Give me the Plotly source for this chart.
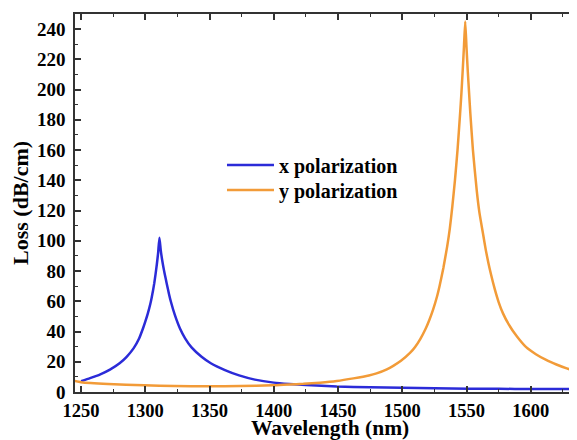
import plotly.graph_objects as go

# x polarization (blue)
x_pol_wl = [1250, 1257, 1265, 1272.5, 1280, 1285.5, 1291, 1295, 1298.4, 1300, 1302, 1304, 1305, 1306,
            1307, 1308, 1309, 1310, 1311,
            1312, 1313, 1314, 1315, 1316, 1317, 1318.4, 1320, 1323, 1327, 1331, 1336, 1343.8, 1351,
            1362, 1373, 1385.3, 1400, 1412, 1425, 1449, 1475, 1500, 1525, 1552, 1575, 1600, 1640]
x_pol_loss = [7.2, 9.2, 11.7, 14.8, 19.0, 23.3, 29.0, 35.0, 42.5, 46.5, 52.0, 58.5, 62.5, 67.0,
              72.0, 78.0, 84.5, 92.0, 102.0,
              94.0, 88.0, 83.0, 78.5, 74.5, 70.5, 65.0, 59.5, 51.0, 42.0, 35.5, 29.5, 23.3, 19.0,
              14.5, 11.0, 8.2, 6.2, 5.3, 4.6, 3.6, 3.1, 2.8, 2.5, 2.2, 2.1, 2.0, 1.9]

# y polarization (orange)
y_pol_wl = [1245, 1250, 1271, 1299, 1323, 1349, 1374, 1399, 1412, 1423, 1436, 1449, 1462, 1474,
            1480, 1488, 1493, 1499, 1506, 1510, 1514, 1518, 1521, 1524, 1527, 1529, 1532, 1535,
            1537, 1539, 1541, 1543, 1545, 1546, 1547, 1548, 1549,
            1550, 1551, 1552, 1553, 1555, 1558, 1560, 1563, 1565, 1567, 1569, 1572, 1575, 1578.4,
            1583, 1589, 1596, 1604, 1612, 1620, 1628, 1636, 1640]
y_pol_loss = [7.3, 6.5, 5.3, 4.4, 4.0, 3.8, 3.95, 4.4, 5.0, 5.4, 6.2, 7.3, 9.0, 10.9,
              12.3, 15.0, 17.3, 20.6, 25.8, 29.8, 35.0, 41.5, 47.5, 54.5, 63.0, 70.0, 82.0, 96.5,
              108.0, 123.0, 140.0, 160.0, 184.0, 197.0, 212.0, 228.0, 245.0,
              228.0, 212.0, 198.0, 184.0, 160.0, 133.0, 119.0, 104.0, 94.0, 85.5, 78.0, 68.0, 59.5, 52.0,
              44.5, 37.0, 30.0, 25.0, 21.2, 18.2, 15.6, 13.6, 12.8]

x_ticks = [1250, 1300, 1350, 1400, 1450, 1500, 1550, 1600]
y_ticks = [0, 20, 40, 60, 80, 100, 120, 140, 160, 180, 200, 220, 240]

BLUE = "#2b2bd8"
ORANGE = "#f29b38"
FONT = "Liberation Serif"

fig = go.Figure()
fig.add_trace(go.Scatter(x=x_pol_wl, y=x_pol_loss, mode="lines", name="x polarization",
                         legend="legend",
                         line=dict(color=BLUE, width=2.5, shape="spline", smoothing=0.5)))
fig.add_trace(go.Scatter(x=y_pol_wl, y=y_pol_loss, mode="lines", name="y polarization",
                         legend="legend2",
                         line=dict(color=ORANGE, width=2.5, shape="spline", smoothing=0.5)))

axis_common = dict(
    showline=True, linecolor="#333333", linewidth=1.5, mirror="ticks",
    ticks="inside", ticklen=6, tickwidth=1.5, tickcolor="#333333",
    showgrid=False, zeroline=False, automargin=False,
    minor=dict(ticks="inside", ticklen=3, tickwidth=1.2, tickcolor="#333333", showgrid=False),
)

fig.update_xaxes(range=[1245.3, 1636], tickvals=x_ticks, ticktext=[str(v) for v in x_ticks],
                 minor_dtick=25, ticklabelstandoff=1,
                 tickfont=dict(family=FONT, size=18.5, color="black", weight="bold"), **axis_common)
fig.update_yaxes(range=[0, 250], tickvals=y_ticks, ticktext=[str(v) for v in y_ticks],
                 minor_dtick=10, ticklabelstandoff=4,
                 tickfont=dict(family=FONT, size=19, color="black", weight="bold"), **axis_common)

title_font = dict(family=FONT, size=21.5, color="black", weight="bold")
fig.add_annotation(text="Wavelength (nm)", xref="paper", yref="paper", x=0.508, y=-0.0965,
                   xanchor="center", yanchor="middle", showarrow=False, font=title_font)
fig.add_annotation(text="Loss (dB/cm)", xref="paper", yref="paper", x=-0.1096, y=0.5,
                   xanchor="center", yanchor="middle", textangle=-90, showarrow=False,
                   font=dict(family=FONT, size=22, color="black", weight="bold"))

legend_font = dict(family=FONT, size=20, color="black", weight="bold")
legend_common = dict(x=0.2928, xanchor="left", yanchor="middle", bgcolor="rgba(0,0,0,0)",
                     font=legend_font, itemwidth=47)

# the page body adds an 8px offset; margins compensate so the plot box matches the reference
fig.update_layout(
    width=569, height=432,
    margin=dict(l=67, r=0, t=6, b=48),
    paper_bgcolor="white", plot_bgcolor="white",
    showlegend=True,
    legend=dict(y=0.6005, **legend_common),
    legend2=dict(y=0.5344, **legend_common),
)

fig.write_html("out.html")
